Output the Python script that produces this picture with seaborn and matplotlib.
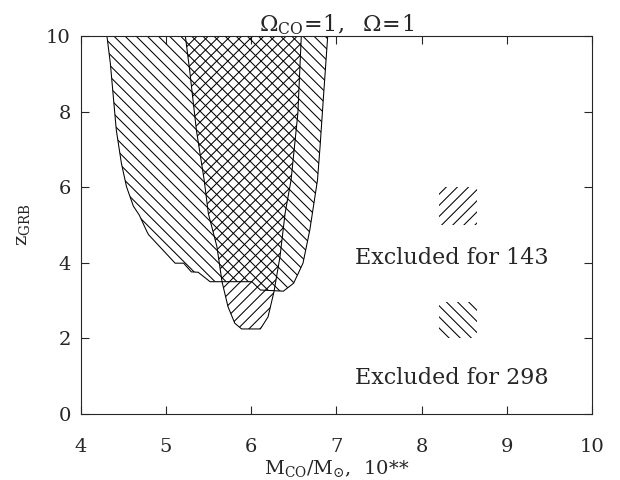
import matplotlib
matplotlib.use("Agg")
import matplotlib.pyplot as plt
import seaborn as sns
import pandas as pd
from matplotlib.patches import Rectangle

# ---- data ----
# region excluded for GRB 298 (hatched "\\")
m298 = [4.31, 4.35, 4.385, 4.42, 4.48, 4.54, 4.62, 4.69, 4.78, 4.80, 5.11, 5.21,
        5.30, 5.38, 5.52, 6.01, 6.11, 6.38, 6.50, 6.61, 6.69, 6.75, 6.78, 6.81,
        6.85, 6.90]
z298 = [10.0, 9.28, 8.39, 7.51, 6.63, 6.01, 5.50, 5.26, 4.82, 4.74, 3.99, 3.99,
        3.76, 3.75, 3.50, 3.50, 3.28, 3.25, 3.46, 3.99, 4.87, 5.75, 6.19, 7.07,
        8.39, 10.0]
# region excluded for GRB 143 (hatched "//")
m143 = [5.23, 5.28, 5.36, 5.45, 5.50, 5.60, 5.66, 5.73, 5.81, 5.89, 6.11, 6.20,
        6.27, 6.34, 6.40, 6.47, 6.55, 6.59]
z143 = [10.0, 9.10, 7.50, 6.20, 5.30, 4.43, 3.50, 2.84, 2.40, 2.25, 2.25, 2.57,
        3.24, 4.16, 5.31, 6.19, 7.96, 10.0]

legend_labels = ["Excluded for 143", "Excluded for 298"]
xticks = [4, 5, 6, 7, 8, 9, 10]
yticks = [0, 2, 4, 6, 8, 10]

sns.set_style("ticks")
plt.rcParams["font.family"] = ["DejaVu Serif"]
plt.rcParams["mathtext.fontset"] = "dejavuserif"
plt.rcParams["hatch.linewidth"] = 0.75
plt.rcParams["hatch.color"] = "black"

fig = plt.figure(figsize=(6.2, 4.8), dpi=100)
ax = fig.add_axes([80.5 / 620, 1 - 414 / 480, (592 - 80.5) / 620, (414 - 36) / 480])

BACK = "\\" * 3
FWD = "/" * 3

# hatched fills
ax.fill(m298, z298, facecolor="none", edgecolor="black", hatch=BACK, linewidth=0)
ax.fill(m143, z143, facecolor="none", edgecolor="black", hatch=FWD, linewidth=0)

# outlines via seaborn
d298 = pd.DataFrame({"m": m298, "z": z298})
d143 = pd.DataFrame({"m": m143, "z": z143})
sns.lineplot(data=d298, x="m", y="z", sort=False, estimator=None, color="black",
             lw=0.75, ax=ax)
sns.lineplot(data=d143, x="m", y="z", sort=False, estimator=None, color="black",
             lw=0.75, ax=ax)

# legend-like squares and text
ax.add_patch(Rectangle((8.21, 5.0), 0.44, 1.0, facecolor="none", edgecolor="black",
                       hatch=FWD, linewidth=0))
ax.add_patch(Rectangle((8.21, 2.0), 0.44, 0.96, facecolor="none", edgecolor="black",
                       hatch=BACK, linewidth=0))
ax.text(8.36, 4.13, legend_labels[0], ha="center", va="center", fontsize=16)
ax.text(8.36, 0.95, legend_labels[1], ha="center", va="center", fontsize=16)

ax.set_xlim(4, 10)
ax.set_ylim(0, 10)
ax.set_xticks(xticks)
ax.set_yticks(yticks)
ax.tick_params(direction="in", length=6, width=0.8, top=True, right=True,
               labelsize=14)
ax.tick_params(axis="x", pad=17)
ax.tick_params(axis="y", pad=7)
for s in ax.spines.values():
    s.set_linewidth(0.8)

ax.set_xlabel(r"M$_{\rm CO}$/M$_{\odot}$,  10**", fontsize=14, va="center")
ax.set_ylabel(r"z$_{\rm GRB}$", fontsize=14)
ax.xaxis.set_label_coords(0.5, -0.143)
ax.yaxis.set_label_coords(-0.095, 0.5)
ax.set_title(r"$\Omega_{\rm CO}\!=\!1,\ \ \Omega\!=\!1$", fontsize=16, pad=3)

fig.savefig("out.png", dpi=100)
